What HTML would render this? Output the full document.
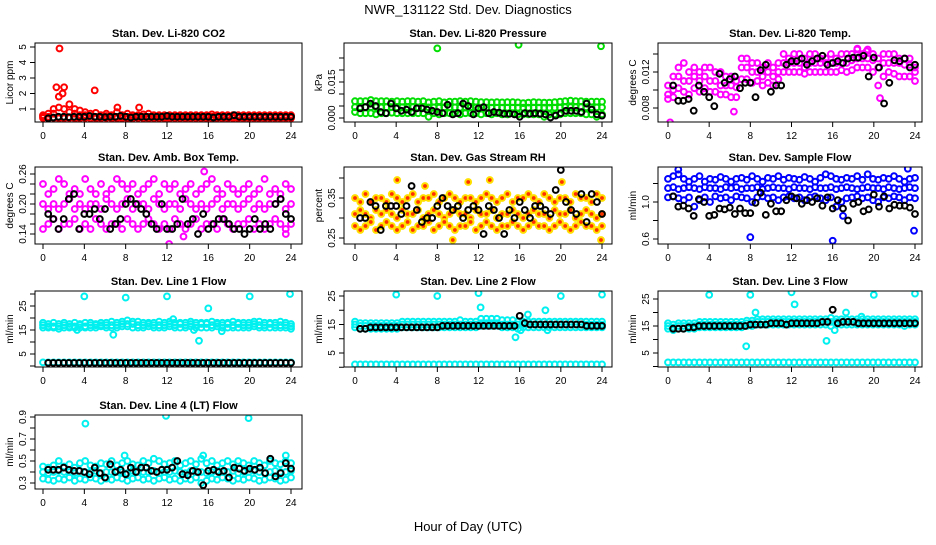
<!DOCTYPE html>
<html><head><meta charset="utf-8"><style>
body{margin:0;background:#fff}
svg text{font-family:"Liberation Sans",sans-serif;fill:#000}
</style></head><body>
<svg id="chart" width="936" height="540" viewBox="0 0 936 540" xmlns="http://www.w3.org/2000/svg">
<text x="468" y="14" text-anchor="middle" font-size="13">NWR_131122  Std. Dev. Diagnostics</text>
<text x="468" y="531" text-anchor="middle" font-size="13">Hour of Day (UTC)</text>
</svg>
<script>
// x ticks (hour of day)
const xTicks = [0,4,8,12,16,20,24];

// P1 Li-820 CO2 (red)
const co2Hi = [0.6,0.7,1.0,1.8,2.4,1.3,1.0,0.9,0.8,0.7,0.75,0.6,0.7,0.6,0.8,0.6,0.7,0.6,0.6,0.65,0.7,0.6,0.6,0.6,0.6,0.6,0.6,0.6,0.6,0.6,0.6,0.6,0.65,0.6,0.6,0.6,0.6,0.6,0.6,0.6,0.6,0.6,0.6,0.6,0.6,0.6,0.6,0.6];
const co2Mid = [0.5,0.5,0.7,1.1,1.0,0.8,0.7,0.6,0.6,0.55,0.5,0.5,0.55,0.5,0.5,0.5,0.5,0.5,0.5,0.5,0.5,0.5,0.5,0.5,0.5,0.5,0.5,0.5,0.5,0.5,0.5,0.5,0.5,0.5,0.5,0.5,0.5,0.5,0.5,0.5,0.5,0.5,0.5,0.5,0.5,0.5,0.5,0.5];
const co2Lo = [0.42,0.4,0.42,0.4,0.4,0.42,0.4,0.4,0.42,0.4,0.4,0.4,0.42,0.4,0.4,0.4,0.4,0.4,0.42,0.4,0.4,0.4,0.4,0.4,0.4,0.4,0.4,0.4,0.4,0.4,0.4,0.4,0.4,0.4,0.4,0.4,0.4,0.4,0.4,0.4,0.4,0.4,0.4,0.4,0.4,0.4,0.4,0.4];
const co2Black = [0.4,0.45,0.5,0.5,0.48,0.5,0.5,0.5,0.55,0.5,0.5,0.48,0.5,0.5,0.55,0.5,0.45,0.5,0.5,0.5,0.5,0.5,0.5,0.55,0.5,0.5,0.5,0.5,0.5,0.5,0.5,0.5,0.45,0.5,0.5,0.5,0.6,0.5,0.5,0.5,0.5,0.5,0.5,0.5,0.5,0.5,0.5,0.5];
const co2Out = [[1.6,4.9],[1.9,2.0],[5.0,2.2],[7.2,1.1],[9.3,1.1],[1.3,2.4]];

// P2 Li-820 pressure (green)
const prHi = [0.007,0.007,0.007,0.0075,0.007,0.007,0.007,0.0068,0.007,0.0068,0.007,0.007,0.0068,0.007,0.0065,0.0068,0.007,0.0065,0.0068,0.0068,0.007,0.0068,0.007,0.0068,0.0066,0.0066,0.0065,0.0066,0.0065,0.0066,0.0066,0.0065,0.0062,0.0064,0.0066,0.0065,0.0064,0.0064,0.0066,0.0068,0.007,0.0072,0.007,0.007,0.0068,0.0068,0.0068,0.0068];
const prMid = [0.0045,0.0045,0.0045,0.0045,0.0045,0.0044,0.0045,0.0045,0.0044,0.0045,0.0044,0.0045,0.0044,0.0045,0.0044,0.0044,0.0043,0.0044,0.0044,0.0044,0.0043,0.0044,0.0044,0.0044,0.0043,0.0043,0.0043,0.0043,0.0043,0.0043,0.0043,0.0043,0.0043,0.0043,0.0043,0.0043,0.0043,0.0043,0.0043,0.0043,0.0045,0.0045,0.0045,0.0045,0.0044,0.0044,0.0044,0.0044];
const prLo = [0.0025,0.002,0.002,0.002,0.0015,0.002,0.002,0.0022,0.002,0.002,0.002,0.002,0.002,0.002,0.0005,0.002,0.0015,0.002,0.002,0.002,0.0015,0.002,0.002,0.002,0.0015,0.002,0.0015,0.002,0.0015,0.0015,0.002,0.0015,0.0015,0.0015,0.0015,0.0015,0.0005,0.0015,0.0015,0.0015,0.002,0.002,0.002,0.002,0.0015,0.0015,0.0005,0.0015];
const prBlack = [0.004,0.0045,0.006,0.005,0.0025,0.002,0.006,0.004,0.003,0.0035,0.0025,0.004,0.004,0.0035,0.003,0.0025,0.002,0.0055,0.0015,0.002,0.006,0.005,0.0015,0.004,0.0045,0.002,0.0025,0.0022,0.0018,0.0018,0.0015,0.0005,0.002,0.0018,0.002,0.0018,0.0015,0.0002,0.001,0.002,0.003,0.003,0.003,0.0025,0.006,0.0035,0.0015,0.001];
const prOut = [[8.0,0.029],[15.9,0.0305],[23.9,0.0299]];

// P3 Li-820 temp (magenta)
const ltHi = [0.0105,0.0115,0.0125,0.013,0.012,0.0125,0.012,0.0125,0.0125,0.012,0.012,0.0115,0.0115,0.011,0.0135,0.0135,0.013,0.013,0.0125,0.013,0.0125,0.013,0.014,0.0135,0.014,0.014,0.0135,0.014,0.014,0.0135,0.0135,0.014,0.0135,0.014,0.014,0.014,0.0145,0.014,0.0145,0.014,0.0135,0.014,0.014,0.014,0.0135,0.0135,0.0135,0.0125];
const ltMid = [0.0095,0.010,0.0115,0.011,0.011,0.0115,0.011,0.0115,0.011,0.011,0.0105,0.0105,0.0105,0.0103,0.0125,0.0125,0.012,0.012,0.0115,0.012,0.0115,0.012,0.013,0.013,0.013,0.013,0.0125,0.013,0.013,0.013,0.013,0.013,0.013,0.013,0.013,0.0133,0.0135,0.0135,0.0135,0.0133,0.0125,0.013,0.013,0.013,0.013,0.0128,0.0128,0.012];
const ltLo = [0.009,0.0092,0.0102,0.0098,0.0095,0.0102,0.0098,0.0102,0.0098,0.0098,0.0095,0.0095,0.0092,0.0092,0.0112,0.0112,0.0108,0.011,0.0105,0.0108,0.0105,0.0112,0.012,0.012,0.012,0.012,0.0118,0.012,0.012,0.012,0.012,0.012,0.012,0.0122,0.012,0.0122,0.0125,0.0125,0.0125,0.012,0.0105,0.0115,0.012,0.0118,0.0115,0.0115,0.0115,0.011];
const ltBlack = [0.0105,0.0088,0.0088,0.009,0.0077,0.0105,0.0098,0.0092,0.0082,0.0118,0.0108,0.0112,0.0115,0.0102,0.0108,0.0108,0.0092,0.0122,0.0128,0.0098,0.0105,0.0105,0.0128,0.0132,0.0132,0.0135,0.0128,0.0132,0.0135,0.0138,0.0128,0.013,0.0132,0.013,0.0135,0.0136,0.0136,0.0138,0.0115,0.0136,0.0125,0.0085,0.0108,0.0133,0.0132,0.0135,0.0125,0.0128];
const ltOut = [[0.2,0.0064],[6.4,0.0076],[18.4,0.0146],[19.3,0.0143],[20.6,0.0091]];

// P4 Amb box temp (magenta)
const abHi = [0.24,0.22,0.23,0.25,0.24,0.22,0.23,0.22,0.25,0.23,0.22,0.24,0.22,0.23,0.25,0.24,0.23,0.24,0.22,0.23,0.24,0.25,0.22,0.24,0.23,0.24,0.22,0.23,0.24,0.22,0.23,0.24,0.25,0.23,0.22,0.24,0.23,0.22,0.23,0.24,0.22,0.23,0.25,0.22,0.23,0.22,0.24,0.23];
const abMid = [0.2,0.19,0.2,0.19,0.2,0.21,0.19,0.2,0.19,0.2,0.2,0.19,0.21,0.2,0.19,0.2,0.21,0.19,0.2,0.2,0.19,0.21,0.2,0.19,0.2,0.2,0.19,0.21,0.2,0.19,0.2,0.19,0.2,0.21,0.19,0.2,0.2,0.19,0.2,0.21,0.19,0.2,0.19,0.2,0.2,0.21,0.19,0.2];
const abLo = [0.15,0.16,0.17,0.15,0.16,0.16,0.17,0.15,0.16,0.15,0.17,0.16,0.15,0.16,0.16,0.15,0.17,0.16,0.15,0.16,0.17,0.16,0.15,0.16,0.15,0.17,0.16,0.15,0.16,0.17,0.15,0.16,0.16,0.15,0.17,0.16,0.15,0.16,0.16,0.17,0.15,0.16,0.15,0.16,0.17,0.16,0.15,0.16];
const abBlack = [0.18,0.17,0.15,0.17,0.21,0.22,0.15,0.18,0.18,0.19,0.17,0.19,0.15,0.16,0.17,0.2,0.21,0.2,0.19,0.18,0.16,0.15,0.2,0.15,0.15,0.16,0.21,0.16,0.17,0.14,0.18,0.15,0.16,0.17,0.17,0.16,0.15,0.15,0.14,0.15,0.17,0.15,0.16,0.15,0.2,0.21,0.18,0.17];
const abOut = [[15.6,0.265],[12.2,0.12],[13.6,0.135],[23.5,0.14]];

// P5 Gas stream RH (orange)
const rhHi = [0.35,0.34,0.36,0.34,0.35,0.35,0.34,0.36,0.35,0.34,0.35,0.36,0.34,0.35,0.35,0.36,0.34,0.35,0.36,0.35,0.34,0.35,0.35,0.34,0.35,0.36,0.35,0.34,0.35,0.36,0.34,0.35,0.35,0.36,0.35,0.34,0.36,0.35,0.34,0.35,0.35,0.34,0.36,0.35,0.35,0.34,0.36,0.35];
const rhMid = [0.31,0.32,0.31,0.3,0.32,0.31,0.32,0.31,0.3,0.32,0.31,0.31,0.32,0.3,0.31,0.32,0.31,0.3,0.31,0.32,0.31,0.31,0.3,0.32,0.31,0.31,0.32,0.3,0.31,0.31,0.32,0.31,0.3,0.31,0.32,0.31,0.31,0.3,0.32,0.31,0.31,0.32,0.3,0.31,0.32,0.31,0.3,0.31];
const rhLo = [0.28,0.27,0.28,0.29,0.27,0.28,0.29,0.28,0.27,0.28,0.29,0.27,0.28,0.28,0.29,0.27,0.28,0.29,0.28,0.27,0.28,0.28,0.29,0.27,0.28,0.29,0.28,0.27,0.28,0.28,0.29,0.28,0.27,0.28,0.29,0.28,0.28,0.27,0.28,0.29,0.28,0.27,0.28,0.29,0.28,0.28,0.27,0.28];
const rhBlack = [0.3,0.3,0.34,0.33,0.27,0.33,0.33,0.33,0.31,0.33,0.38,0.32,0.29,0.3,0.3,0.33,0.35,0.33,0.32,0.33,0.3,0.32,0.33,0.32,0.26,0.33,0.32,0.3,0.26,0.32,0.3,0.34,0.32,0.3,0.33,0.33,0.32,0.31,0.37,0.42,0.34,0.32,0.31,0.36,0.29,0.36,0.34,0.31];
const rhOut = [[4.1,0.395],[6.8,0.38],[11.0,0.39],[13.1,0.395],[20.1,0.39],[23.9,0.245],[9.5,0.245]];

// P6 Sample flow (blue)
const sfHi = [1.25,1.28,1.3,1.25,1.22,1.25,1.28,1.22,1.25,1.24,1.27,1.25,1.22,1.25,1.26,1.24,1.28,1.25,1.22,1.26,1.25,1.28,1.24,1.26,1.25,1.24,1.27,1.25,1.22,1.26,1.3,1.28,1.25,1.24,1.26,1.25,1.28,1.24,1.3,1.25,1.24,1.26,1.25,1.28,1.25,1.22,1.25,1.26];
const sfMid = [1.15,1.16,1.14,1.15,1.16,1.15,1.14,1.16,1.15,1.15,1.14,1.16,1.15,1.16,1.14,1.15,1.15,1.16,1.14,1.15,1.16,1.15,1.15,1.14,1.16,1.15,1.15,1.14,1.16,1.15,1.15,1.16,1.14,1.15,1.16,1.15,1.14,1.15,1.16,1.15,1.15,1.14,1.16,1.15,1.14,1.15,1.16,1.15];
const sfLo = [1.05,1.06,1.04,1.02,1.05,0.95,1.02,1.05,1.0,1.06,1.04,1.05,1.02,1.06,1.05,1.04,1.0,1.05,1.06,1.04,1.05,1.02,1.05,1.06,1.04,1.05,1.02,1.05,1.06,1.04,1.02,1.05,0.95,1.0,1.04,1.05,1.06,1.04,1.05,1.02,1.0,1.05,1.04,1.06,1.05,1.02,1.05,1.04];
const sfBlack = [1.06,0.95,0.96,0.93,0.85,1.03,1.0,0.85,0.86,0.93,0.92,0.94,0.87,0.93,0.88,0.88,0.99,1.1,0.86,0.98,0.9,0.9,1.02,1.06,1.04,0.98,1.02,1.0,1.04,0.96,1.05,0.93,1.02,0.93,0.8,0.98,1.0,0.9,0.92,1.08,0.95,1.06,0.93,0.97,0.96,0.96,0.94,0.87];
const sfOut = [[8.0,0.62],[16.0,0.58],[23.9,0.69],[23.3,1.36],[17.0,0.85],[1.0,1.35]];

// P7 Line 1 flow (cyan)
const l1Hi = [18,17.5,18,17.5,18,17.5,18,17.5,18,18,17.5,18,18,18.5,18,18.5,19,18.5,18.5,18,18,18,18.5,18,18.5,18,18,18,18.5,18,18,18,18.5,18,18,18,18.5,18,18,18,18.5,18.5,18,18,18,18.5,18,17.5];
const l1Mid = [17,16.5,16.5,16.5,17,16.5,16.5,17,16.5,17,17,17,17,17,17,17.5,17.5,17.5,17,17,17.5,17,17,17,17.5,17,17.5,17,17.5,17,17.5,17.5,17,17.5,17,17.5,17,17.5,17,17,17.5,17,17,17.5,17,17,17,16.5];
const l1Lo = [16,16,16,15.5,16,16,16,16,16,16,16,16.5,16,16,16,16.5,16.5,16,16,16,16.5,16,16,16,16.5,16,16,16,16.5,16,16,16,16,16.5,16,16,16,16,16,16,16.5,16,16,16,16,16,16,15.5];
const l1Base = [1.5,1.5,1.5,1.5,1.5,1.5,1.5,1.5,1.5,1.5,1.5,1.5,1.5,1.5,1.5,1.5,1.5,1.5,1.5,1.5,1.5,1.5,1.5,1.5,1.5,1.5,1.5,1.5,1.5,1.5,1.5,1.5,1.5,1.5,1.5,1.5,1.5,1.5,1.5,1.5,1.5,1.5,1.5,1.5,1.5,1.5,1.5,1.5];
const l1Black = [1.3,1.3,1.3,1.3,1.3,1.3,1.3,1.3,1.3,1.3,1.3,1.3,1.3,1.3,1.3,1.3,1.3,1.3,1.3,1.3,1.3,1.3,1.3,1.3,1.3,1.3,1.3,1.3,1.3,1.3,1.3,1.3,1.3,1.3,1.3,1.3,1.3,1.3,1.3,1.3,1.3,1.3,1.3,1.3,1.3,1.3,1.3,1.3];
const l1Out = [[4,29],[8,28.5],[12,29],[20,29],[23.9,30],[16,24],[15.1,10.5],[6.8,13],[3.3,15],[14.6,15],[17.3,14.5],[12.6,19.5]];

// P8 Line 2 flow (cyan)
const l2Hi = [16,15.5,15.5,15.5,15.5,15.5,15.5,15.5,15.5,16,16,16,16,16,16,16,16,16,16,16,16.5,16,16,16,17,17,17,17,16.5,16.5,16.5,16,16,16,16,16,16,16,16,16,16,16,16,16,16,16,16,16];
const l2Mid = [15,14.5,14.5,14.5,14.5,14.5,14.5,14.5,14.5,15,15,15,15,15,15,15,15,15,15,15,15,15,15,15,15.5,15.5,15.5,15.5,15,15,15,15,15,15,15,15,15,15,15,15,15,15,15,15,15,15,15,15];
const l2Lo = [14,13.5,13.5,13.5,13.5,13.5,13.5,13.5,13.5,14,14,14,14,14,14,14,14,14,14,14,14,14,14,14,14.5,14.5,14.5,14.5,14,14,14,13.5,14,14,14,14,14,14,14,14,14,14,14,14,14,14,14,14];
const l2Base = [1,1,1,1,1,1,1,1,1,1,1,1,1,1,1,1,1,1,1,1,1,1,1,1,1,1,1,1,1,1,1,1,1,1,1,1,1,1,1,1,1,1,1,1,1,1,1,1];
const l2Black = [13.5,13.5,14,14,14,14,14,14,14,14,14,14,14,14,14,14,14.5,14.5,14.5,14.5,14.5,14.5,14.5,14.5,14.5,14.5,14.5,14.5,14.5,14.5,14.5,18,15.5,15,15,15,15,15,15,15,15,15,15,15,14.5,14.5,14.5,14.5];
const l2Out = [[4,25.5],[8,25],[12,26],[20,25],[24,25.5],[15.6,10.5],[16.8,18.5],[18.5,20],[12.2,21],[16.1,13],[18.7,13]];

// P9 Line 3 flow (cyan)
const l3Hi = [16,15.5,16,16,16,16,16.5,16.5,16.5,16.5,16.5,16.5,16.5,16.5,16.5,17,17,17.5,17.5,17.5,17.5,17.5,17.5,17.5,17.5,17.5,17.5,17.5,17.5,17.5,17.5,18,17.5,17.5,17.5,17.5,17.5,17.5,17.5,17.5,17.5,17.5,17.5,17.5,17.5,17.5,17.5,17.5];
const l3Mid = [15,14.5,15,15,15,15,15.5,15.5,15.5,15.5,15.5,15.5,15.5,15.5,15.5,16,16,16.5,16.5,16.5,16.5,16.5,16.5,16.5,16.5,16.5,16.5,16.5,16.5,16.5,16.5,16.5,16.5,16.5,16.5,16.5,16.5,16.5,16.5,16.5,16.5,16.5,16.5,16.5,16.5,16.5,16.5,16.5];
const l3Lo = [14,13.5,14,14,14,14,14.5,14.5,14.5,14.5,14.5,14.5,14.5,14.5,14.5,15,15,15.5,15.5,15.5,15.5,15.5,15.5,15.5,15.5,15.5,15.5,15.5,15.5,15.5,15.5,15,15.5,15.5,15.5,15.5,15.5,15.5,15.5,15.5,15.5,15.5,15.5,15.5,15.5,15,15.5,15.5];
const l3Base = [1.5,1.5,1.5,1.5,1.5,1.5,1.5,1.5,1.5,1.5,1.5,1.5,1.5,1.5,1.5,1.5,1.5,1.5,1.5,1.5,1.5,1.5,1.5,1.5,1.5,1.5,1.5,1.5,1.5,1.5,1.5,1.5,1.5,1.5,1.5,1.5,1.5,1.5,1.5,1.5,1.5,1.5,1.5,1.5,1.5,1.5,1.5,1.5];
const l3Black = [14,14,14,14.5,14.5,15,15,15,15,15,15,15,15,15,15,15.5,15.5,15.5,15.5,16,16,16,15.5,16,16,16,16,16,16,16.5,16.5,21,16,16.5,16.5,16.5,16,16,16,16,16,16,16,16,16,16,16,16];
const l3Out = [[4,26.5],[8,26.5],[12,27.5],[20,26.5],[24,27],[7.6,7.5],[15.4,9.5],[12.3,23],[8.5,20],[17.3,20],[16.2,13.5],[18.8,18.5]];

// P10 Line 4 (LT) flow (cyan)
const l4Hi = [0.45,0.44,0.46,0.5,0.45,0.47,0.44,0.48,0.5,0.46,0.45,0.48,0.47,0.5,0.46,0.48,0.5,0.47,0.46,0.5,0.48,0.52,0.5,0.47,0.48,0.5,0.46,0.48,0.5,0.47,0.52,0.48,0.5,0.46,0.48,0.5,0.47,0.5,0.48,0.46,0.5,0.48,0.46,0.5,0.48,0.47,0.5,0.48];
const l4Mid = [0.4,0.39,0.4,0.41,0.4,0.4,0.39,0.41,0.4,0.4,0.41,0.39,0.4,0.4,0.41,0.4,0.39,0.41,0.4,0.4,0.4,0.41,0.39,0.4,0.4,0.41,0.4,0.39,0.41,0.4,0.4,0.39,0.4,0.41,0.4,0.4,0.41,0.39,0.4,0.4,0.41,0.4,0.39,0.4,0.41,0.4,0.4,0.41];
const l4Lo = [0.34,0.33,0.32,0.34,0.33,0.35,0.32,0.34,0.33,0.35,0.34,0.32,0.34,0.33,0.35,0.34,0.32,0.34,0.35,0.33,0.34,0.32,0.34,0.35,0.33,0.34,0.32,0.34,0.33,0.35,0.3,0.32,0.34,0.33,0.35,0.34,0.32,0.34,0.33,0.35,0.34,0.32,0.33,0.35,0.34,0.32,0.33,0.35];
const l4Black = [0.42,0.42,0.42,0.44,0.42,0.41,0.41,0.4,0.38,0.44,0.39,0.35,0.47,0.4,0.42,0.38,0.44,0.4,0.44,0.44,0.41,0.4,0.42,0.42,0.44,0.5,0.38,0.37,0.41,0.4,0.28,0.41,0.42,0.4,0.41,0.35,0.44,0.43,0.41,0.43,0.42,0.44,0.39,0.52,0.36,0.39,0.48,0.43];
const l4Out = [[4.1,0.84],[11.9,0.91],[19.9,0.89],[7.9,0.55],[15.5,0.55],[23.5,0.55]];

const svg = document.getElementById('chart');
const NS = 'http://www.w3.org/2000/svg';
function mk(tag, attrs, parent){const e=document.createElementNS(NS,tag);for(const k in attrs)e.setAttribute(k,attrs[k]);(parent||svg).appendChild(e);return e;}

const cols = [{l:35,r:302,x0:43,x24:291},{l:344,r:612,x0:355,x24:602},{l:658,r:922,x0:668,x24:915}];
const rows = [{t:43,b:122},{t:167,b:244},{t:291,b:367},{t:415,b:489}];

const panels = [
 {name:'co2',title:'Stan. Dev. Li-820 CO2',ylab:'Licor ppm',c:0,r:0,cal:[1,109,5,47],ticks:[1,2,3,4,5],labels:[1,2,3,4,5],fmt:v=>String(v),col:'#ff0000',series:[co2Hi,co2Mid,co2Lo],black:co2Black,out:co2Out},
 {name:'pressure',title:'Stan. Dev. Li-820 Pressure',ylab:'kPa',c:1,r:0,cal:[0,118,0.015,82],ticks:[0,0.005,0.01,0.015,0.02,0.025],labels:[0,0.015],fmt:v=>v.toFixed(3),col:'#00dd00',series:[prHi,prMid,prLo],black:prBlack,out:prOut},
 {name:'li820-temp',title:'Stan. Dev. Li-820 Temp.',ylab:'degrees C',c:2,r:0,cal:[0.008,108,0.012,72],ticks:[0.008,0.010,0.012,0.014],labels:[0.008,0.012],fmt:v=>v.toFixed(3),col:'#ff00ff',series:[ltHi,ltMid,ltLo],black:ltBlack,out:ltOut},
 {name:'amb-box-temp',title:'Stan. Dev. Amb. Box Temp.',ylab:'degrees C',c:0,r:1,cal:[0.14,234,0.20,204],ticks:[0.14,0.16,0.18,0.20,0.22,0.24,0.26],labels:[0.14,0.20,0.26],fmt:v=>v.toFixed(2),col:'#ff00ff',series:[abHi,abMid,abLo],black:abBlack,out:abOut},
 {name:'gas-stream-rh',title:'Stan. Dev. Gas Stream RH',ylab:'percent',c:1,r:1,cal:[0.25,238,0.35,198],ticks:[0.25,0.30,0.35,0.40],labels:[0.25,0.35],fmt:v=>v.toFixed(2),col:'#ffe000',fill:'#ff3000',series:[rhHi,rhMid,rhLo],black:rhBlack,out:rhOut},
 {name:'sample-flow',title:'Stan. Dev. Sample Flow',ylab:'ml/min',c:2,r:1,cal:[0.6,239,1.0,202],ticks:[0.6,0.8,1.0,1.2],labels:[0.6,1.0],fmt:v=>v.toFixed(1),col:'#0000ff',series:[sfHi,sfMid,sfLo],black:sfBlack,out:sfOut},
 {name:'line1-flow',title:'Stan. Dev. Line 1 Flow',ylab:'ml/min',c:0,r:2,cal:[5,354,25,306],ticks:[0,5,10,15,20,25,30],labels:[5,15,25],fmt:v=>String(v),col:'#00f0f0',series:[l1Hi,l1Mid,l1Lo,l1Base],black:l1Black,out:l1Out},
 {name:'line2-flow',title:'Stan. Dev. Line 2 Flow',ylab:'ml/min',c:1,r:2,cal:[5,353,25,296],ticks:[0,5,10,15,20,25],labels:[5,15,25],fmt:v=>String(v),col:'#00f0f0',series:[l2Hi,l2Mid,l2Lo,l2Base],black:l2Black,out:l2Out},
 {name:'line3-flow',title:'Stan. Dev. Line 3 Flow',ylab:'ml/min',c:2,r:2,cal:[5,353,25,299],ticks:[0,5,10,15,20,25],labels:[5,15,25],fmt:v=>String(v),col:'#00f0f0',series:[l3Hi,l3Mid,l3Lo,l3Base],black:l3Black,out:l3Out},
 {name:'line4-flow',title:'Stan. Dev. Line 4 (LT) Flow',ylab:'ml/min',c:0,r:3,cal:[0.3,483,0.9,417],ticks:[0.3,0.4,0.5,0.6,0.7,0.8,0.9],labels:[0.3,0.5,0.7,0.9],fmt:v=>v.toFixed(1),col:'#00f0f0',series:[l4Hi,l4Mid,l4Lo],black:l4Black,out:l4Out}
];

panels.forEach(p=>{
  const C=cols[p.c], R=rows[p.r];
  const xs = h => C.x0 + h*(C.x24-C.x0)/24;
  const ys = v => p.cal[1] + (v-p.cal[0])*(p.cal[3]-p.cal[1])/(p.cal[2]-p.cal[0]);
  const g = mk('g',{});
  
  
  const t = mk('text',{x:(C.l+C.r)/2,y:R.t-6,'text-anchor':'middle','font-size':'11','font-weight':'bold'},g);
  t.textContent=p.title;
  
  
  const cid='clip-'+p.name;
  const cp=mk('clipPath',{id:cid},g); mk('rect',{x:C.l,y:R.t,width:C.r-C.l,height:R.b-R.t},cp);
  const pts = mk('g',{'clip-path':'url(#'+cid+')'},g);
  
  
  const dot=(h,v,stroke,fill)=>{
    const c=mk('circle',{cx:xs(h).toFixed(1),cy:ys(v).toFixed(1),r:2.9,fill:fill||'none',stroke:stroke,'stroke-width':2},pts);
    
    
  };
  p.series.forEach(arr=>{arr.forEach((v,i)=>dot(i*24/(arr.length-1),v,p.col,p.fill));});
  p.out.forEach(o=>dot(o[0],o[1],p.col,p.fill));
  p.black.forEach((v,i)=>dot(0.5+i*23.5/(p.black.length-1),v,'#000'));
  const box=mk('rect',{x:C.l,y:R.t,width:C.r-C.l,height:R.b-R.t,fill:'none',stroke:'#000','stroke-width':1},g);
  
  
  mk('line',{x1:xs(0),x2:xs(24),y1:R.b,y2:R.b,stroke:'#000'},g);
  xTicks.forEach(h=>{
    mk('line',{x1:xs(h),x2:xs(h),y1:R.b,y2:R.b+5,stroke:'#000'},g);
    const tl=mk('text',{x:xs(h),y:R.b+17,'text-anchor':'middle','font-size':'10'},g);
    tl.textContent=h;
    
    
  });
  const yt=p.ticks.filter(v=>ys(v)>=R.t-1&&ys(v)<=R.b+1);
  mk('line',{x1:C.l,x2:C.l,y1:ys(yt[0]),y2:ys(yt[yt.length-1]),stroke:'#000'},g);
  yt.forEach(v=>mk('line',{x1:C.l-5,x2:C.l,y1:ys(v),y2:ys(v),stroke:'#000'},g));
  p.labels.forEach(v=>{
    const y=ys(v), x=C.l-9;
    const tl=mk('text',{x:x,y:y,'text-anchor':'middle','font-size':'10',transform:'rotate(-90 '+x+' '+y+')'},g);
    tl.textContent=p.fmt(v);
    
    
  });
  const yx=C.l-22, ym=(R.t+R.b)/2;
  const yl=mk('text',{x:yx,y:ym,'text-anchor':'middle','font-size':'10',transform:'rotate(-90 '+yx+' '+ym+')'},g);
  yl.textContent=p.ylab;
  
  
});
</script>
</body></html>
